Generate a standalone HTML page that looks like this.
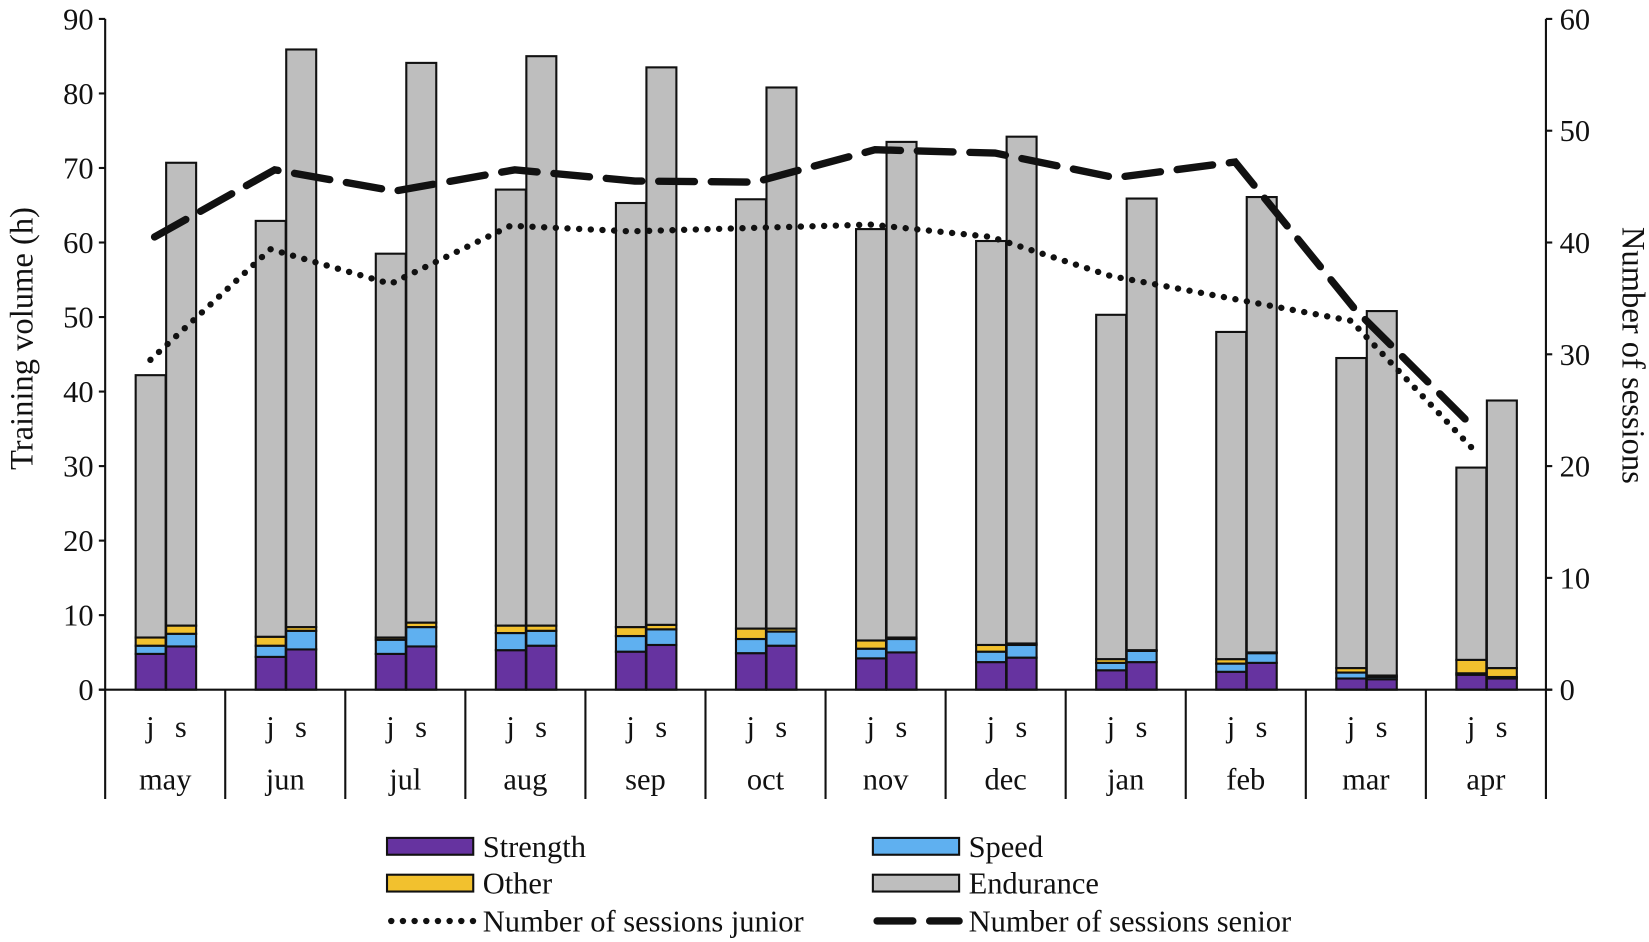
<!DOCTYPE html>
<html><head><meta charset="utf-8"><style>
body{margin:0;background:#fff}
svg{display:block;font-family:"Liberation Serif",serif}
</style></head><body>
<svg id="c" width="1649" height="942" viewBox="0 0 1568 896" preserveAspectRatio="none"></svg>
<script>
const months=["may","jun","jul","aug","sep","oct","nov","dec","jan","feb","mar","apr"];
const strengthJ=[4.8,4.4,4.8,5.3,5.1,4.9,4.2,3.7,2.6,2.4,1.5,2.0];
const speedJ=[1.1,1.5,1.9,2.3,2.1,1.9,1.3,1.4,1.0,1.1,0.8,0.2];
const otherJ=[1.1,1.2,0.3,1.0,1.2,1.4,1.1,0.9,0.5,0.6,0.6,1.8];
const totalJ=[42.2,62.9,58.5,67.1,65.3,65.8,61.8,60.2,50.3,48.0,44.5,29.8];
const strengthS=[5.8,5.4,5.8,5.9,6.0,5.9,5.0,4.3,3.7,3.6,1.4,1.5];
const speedS=[1.7,2.5,2.6,2.0,2.1,1.9,1.8,1.7,1.5,1.3,0.3,0.2];
const otherS=[1.1,0.5,0.6,0.7,0.6,0.4,0.2,0.2,0.1,0.1,0.2,1.2];
const totalS=[70.7,85.9,84.1,85.0,83.5,80.8,73.5,74.2,65.9,66.1,50.8,38.8];
const sessJ=[29.5,39.4,36.3,41.5,41.0,41.3,41.6,40.5,37.0,35.0,33.0,21.7];
const sessS=[40.5,46.5,44.6,46.5,45.5,45.4,48.3,48.0,45.8,47.2,34.0,23.3];
const leftTicks=[0,10,20,30,40,50,60,70,80,90];
const rightTicks=[0,10,20,30,40,50,60];

const NS="http://www.w3.org/2000/svg";
const svg=document.getElementById('c');
const X0=100,X1=1470,Y0=656,Y1=18;
const FS=29;
const mw=(X1-X0)/months.length;
const yL=v=>Y0-(Y0-Y1)*v/90;
const yR=v=>Y0-(Y0-Y1)*v/60;
const xM=i=>X0+mw*i;
function el(t,a,p){const e=document.createElementNS(NS,t);for(const k in a)e.setAttribute(k,a[k]);(p||svg).appendChild(e);return e;}
const COL={str:"#6633a0",spd:"#5fb0f0",oth:"#f2c12e",end:"#bebebe"};
const bw=28.5;
function stack(i,off,s,sp,o,t,who){
  const x=xM(i)+off;
  const segs=[["strength",0,s,COL.str],["speed",s,s+sp,COL.spd],["other",s+sp,s+sp+o,COL.oth],["endurance",s+sp+o,t,COL.end]];
  segs.forEach(g=>{
    const r=el('rect',{x:x,y:yL(g[2]),width:bw,height:Math.max(0,yL(g[1])-yL(g[2])),fill:g[3],stroke:"#111","stroke-width":2});
    
    
  });
}
months.forEach((m,i)=>{
  stack(i,29,strengthJ[i],speedJ[i],otherJ[i],totalJ[i],'junior');
  stack(i,58,strengthS[i],speedS[i],otherS[i],totalS[i],'senior');
});
let a=el('line',{x1:X0,y1:Y1,x2:X0,y2:Y0,stroke:"#111","stroke-width":2});
a=el('line',{x1:X1,y1:Y1,x2:X1,y2:Y0,stroke:"#111","stroke-width":2});
a=el('line',{x1:X0-6,y1:Y0,x2:X1+6,y2:Y0,stroke:"#111","stroke-width":2});
leftTicks.forEach(v=>{
  el('line',{x1:X0-6,y1:yL(v),x2:X0,y2:yL(v),stroke:"#111","stroke-width":2});
  const t=el('text',{x:X0-11,y:yL(v)+10,"text-anchor":"end","font-size":FS,fill:"#111"});t.textContent=v;
  
});
rightTicks.forEach(v=>{
  el('line',{x1:X1,y1:yR(v),x2:X1+6,y2:yR(v),stroke:"#111","stroke-width":2});
  const t=el('text',{x:X1+13,y:yR(v)+10,"text-anchor":"start","font-size":FS,fill:"#111"});t.textContent=v;
  
});
for(let i=0;i<=months.length;i++){el('line',{x1:xM(i),y1:Y0,x2:xM(i),y2:760,stroke:"#111","stroke-width":2});}
months.forEach((m,i)=>{
  let t=el('text',{x:xM(i)+43,y:701,"text-anchor":"middle","font-size":FS,fill:"#111"});t.textContent='j';
  
  t=el('text',{x:xM(i)+72,y:701,"text-anchor":"middle","font-size":FS,fill:"#111"});t.textContent='s';
  
  t=el('text',{x:xM(i)+mw/2,y:751,"text-anchor":"middle","font-size":FS,fill:"#111"});t.textContent=m;
  
});
function line(arr,off,dash,w,name){
  const pts=arr.map((v,i)=>(xM(i)+off)+','+yR(v)).join(' ');
  const p=el('polyline',{points:pts,fill:"none",stroke:"#111","stroke-width":w,"stroke-dasharray":dash,"stroke-linecap":"round"});
  
}
line(sessJ,43,"0.1 11",6,'line-sessions-junior');
line(sessS,47,"34 16",7,'line-sessions-senior');
let t=el('text',{x:0,y:0,"font-size":31,"text-anchor":"middle",fill:"#111",transform:"translate(31,322) rotate(-90)"});t.textContent='Training volume (h)';

t=el('text',{x:0,y:0,"font-size":31,"text-anchor":"middle",fill:"#111",transform:"translate(1543,338) rotate(90)"});t.textContent='Number of sessions';

const leg=[[368,805,'Strength',COL.str],[830,805,'Speed',COL.spd],[368,840,'Other',COL.oth],[830,840,'Endurance',COL.end]];
leg.forEach(l=>{
  const g=el('g',{});
  el('rect',{x:l[0],y:l[1]-8,width:82,height:16,fill:l[3],stroke:"#111","stroke-width":2},g);
  const tx=el('text',{x:l[0]+91,y:l[1]+10,"font-size":FS,fill:"#111"},g);tx.textContent=l[2];
});
[[368,876,'Number of sessions junior',"0.1 11",6],[830,876,'Number of sessions senior',"34 16",7]].forEach(l=>{
  const g=el('g',{});
  el('line',{x1:l[0]+4,y1:l[1],x2:l[0]+82,y2:l[1],stroke:"#111","stroke-width":l[4],"stroke-dasharray":l[3],"stroke-linecap":"round"},g);
  const tx=el('text',{x:l[0]+91,y:l[1]+10,"font-size":FS,fill:"#111"},g);tx.textContent=l[2];
});
</script>
</body></html>
